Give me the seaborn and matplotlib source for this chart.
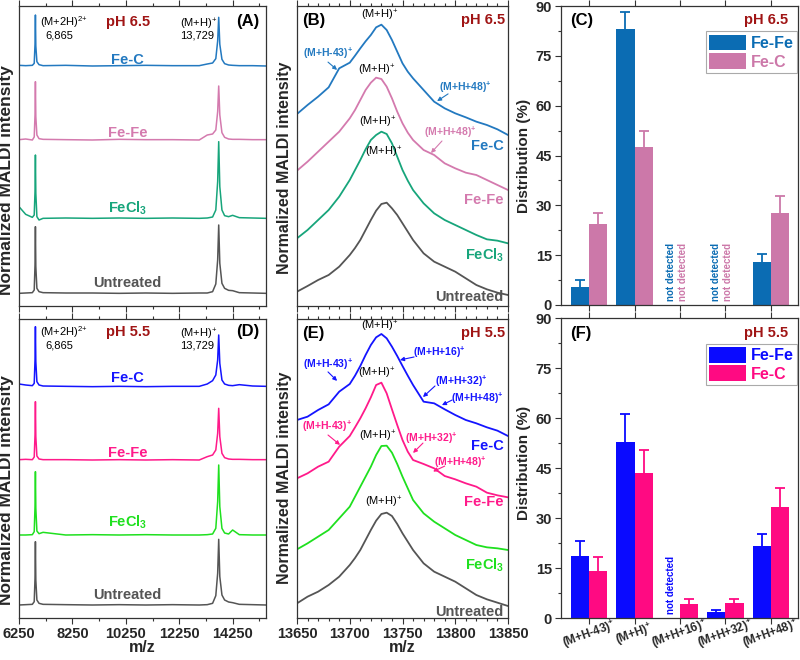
import matplotlib
matplotlib.use("Agg")
import matplotlib.pyplot as plt
from matplotlib.patches import Patch
from matplotlib.ticker import MultipleLocator
import pandas as pd
import seaborn as sns

# full-range spectra, intensity above each trace's own baseline
mz_full = [6250, 6500, 6750, 6820, 6850, 6865, 6880, 6920, 7000, 7150, 8000, 9000,
           10000, 11000, 12000, 13000, 13300, 13500, 13620, 13690, 13729, 13770,
           13850, 13950, 14100, 14250, 14500, 15000, 15500]
full_65 = {
    "Fe-C": [0.2, 0.1, 0.2, 0.8, 6.5, 15.3, 6.0, 1.3, 0.4, 0.1, 0.2, 0.0, 0.1, 0.2, 0.1,
             0.1, 0.6, 0.9, 2.2, 7.5, 14.6, 6.5, 2.0, 0.7, 0.3, 0.2, 0.1, 0.1, 0.0],
    "Fe-Fe": [0.1, 0.3, 0.0, 0.9, 7.5, 17.5, 7.0, 1.5, 0.4, 0.2, 0.1, 0.0, 0.2, 0.1, 0.1,
              0.0, 1.5, 1.8, 3.0, 8.5, 16.2, 7.5, 2.2, 0.8, 0.3, 0.2, 0.2, 0.1, 0.1],
    "FeCl3": [3.5, 1.2, 0.3, 1.0, 8.0, 19.0, 7.5, 0.5, -0.5, 0.0, 0.1, 0.0, 0.1, 0.0, 0.1,
              0.0, 0.1, 0.4, 2.5, 11.0, 23.0, 9.5, 2.5, 0.8, 0.5, 0.9, 0.2, 0.1, 0.0],
    "Untreated": [0.0, 0.1, 0.2, 1.0, 8.5, 20.0, 8.0, 1.5, 0.5, 0.2, 0.1, 0.1, 0.0, 0.1, 0.0,
                  0.1, 0.1, 0.5, 2.8, 10.0, 20.5, 9.0, 3.0, 1.5, 0.9, 0.8, 0.2, 0.1, 0.0],
}
full_55 = {
    "Fe-C": [0.8, 0.5, 0.3, 1.0, 8.0, 18.0, 7.5, 1.5, 0.5, 0.2, 0.1, 0.0, 0.1, 0.0, 0.1,
             0.1, 0.8, 1.8, 3.5, 8.0, 15.5, 7.0, 2.0, 0.8, 0.4, 0.3, 0.6, 0.2, 0.1],
    "Fe-Fe": [0.1, 0.2, 0.1, 0.9, 7.5, 17.5, 7.0, 1.2, 0.3, 0.1, 0.1, 0.0, 0.1, 0.0, 0.1,
              0.0, 1.0, 1.5, 3.0, 8.0, 15.5, 7.0, 2.0, 0.7, 0.3, 0.2, 0.2, 0.1, 0.1],
    "FeCl3": [0.0, 0.0, 0.1, 1.0, 8.5, 19.0, 8.0, 1.2, 0.4, 0.8, 0.0, 0.1, 0.0, 0.1, 0.0,
              0.0, 0.1, 0.3, 2.0, 10.0, 21.0, 8.5, 2.0, 0.6, 0.3, 1.5, 0.1, 0.0, 0.0],
    "Untreated": [0.0, 0.1, 0.2, 1.0, 8.0, 19.0, 7.5, 1.5, 0.5, 0.2, 0.1, 0.0, 0.1, 0.0, 0.1,
                  0.0, 0.1, 0.5, 2.8, 9.5, 19.7, 8.5, 3.0, 1.5, 0.9, 0.7, 0.2, 0.1, 0.0],
}

# zoom on the (M+H)+ peak
mz_zoom = [13650, 13660, 13670, 13680, 13690, 13700, 13705, 13710, 13715, 13720, 13725,
           13730, 13735, 13740, 13745, 13750, 13755, 13760, 13770, 13780, 13790, 13800,
           13810, 13820, 13830, 13840, 13850]
zoom_65 = {
    "Fe-C": [7.8, 10.5, 13.0, 15.8, 21.5, 23.2, 25.3, 27.5, 29.6, 31.5, 33.8, 34.6, 33.0,
             30.0, 26.5, 23.0, 20.5, 18.5, 15.0, 11.5, 9.5, 8.0, 6.8, 5.5, 4.5, 3.2, 1.5],
    "Fe-Fe": [6.8, 9.5, 12.5, 15.5, 18.5, 22.5, 25.0, 28.0, 31.0, 33.2, 34.7, 34.3, 32.0,
              28.5, 24.5, 21.0, 18.2, 16.0, 13.0, 11.5, 9.0, 7.5, 6.2, 5.5, 4.0, 2.5, 1.0],
    "FeCl3": [2.5, 5.0, 8.0, 11.0, 15.0, 20.0, 23.0, 26.0, 29.2, 32.0, 33.5, 34.5, 33.8,
              31.0, 27.0, 23.0, 19.8, 17.0, 13.0, 10.0, 8.0, 6.5, 5.0, 3.5, 2.2, 1.8, 1.0],
    "Untreated": [2.5, 4.2, 6.0, 7.5, 10.0, 13.5, 15.6, 18.0, 21.0, 24.0, 26.8, 28.8, 29.2,
                  27.5, 25.5, 23.0, 20.5, 18.0, 14.0, 11.5, 10.0, 8.5, 6.5, 4.5, 3.2, 2.2, 1.5],
}
zoom_55 = {
    "Fe-C": [9.0, 10.0, 12.0, 13.7, 17.5, 19.8, 22.3, 25.2, 28.5, 31.5, 33.8, 34.8, 33.5,
             31.0, 28.2, 25.2, 22.3, 19.5, 14.5, 14.0, 12.2, 10.5, 9.0, 8.0, 6.8, 5.8, 4.2],
    "Fe-Fe": [7.5, 9.0, 11.0, 12.5, 17.0, 20.2, 22.8, 25.5, 28.5, 31.8, 35.5, 36.2, 33.0,
              28.2, 23.5, 19.0, 15.5, 13.0, 11.8, 10.5, 8.2, 7.2, 6.0, 5.0, 3.2, 2.4, 1.8],
    "FeCl3": [2.2, 4.0, 6.0, 8.0, 11.5, 15.0, 18.0, 21.0, 24.0, 27.0, 30.5, 33.2, 33.3,
              31.2, 27.8, 24.0, 20.5, 17.0, 13.0, 10.5, 8.5, 6.5, 5.0, 3.5, 2.8, 2.5, 2.0],
    "Untreated": [2.0, 4.0, 5.5, 7.5, 10.0, 13.5, 15.6, 18.0, 21.0, 24.0, 26.8, 28.8, 29.2,
                  28.2, 25.8, 23.0, 20.5, 18.0, 14.0, 11.5, 10.0, 8.5, 6.5, 4.5, 3.2, 2.2, 1.2],
}

# species distribution (%), None = not detected
ions = ["(M+H-43)$^{\\mathbf{+}}$", "(M+H)$^{\\mathbf{+}}$", "(M+H+16)$^{\\mathbf{+}}$",
        "(M+H+32)$^{\\mathbf{+}}$", "(M+H+48)$^{\\mathbf{+}}$"]
dist_65 = {"Fe-Fe": [5.3, 83.0, None, None, 13.0], "Fe-C": [24.5, 47.6, None, None, 27.7]}
err_65 = {"Fe-Fe": [2.2, 5.3, None, None, 2.5], "Fe-C": [3.2, 4.8, None, None, 5.0]}
dist_55 = {"Fe-Fe": [18.5, 52.8, None, 1.7, 21.5], "Fe-C": [14.2, 43.5, 4.2, 4.5, 33.2]}
err_55 = {"Fe-Fe": [4.7, 8.5, None, 0.8, 3.7], "Fe-C": [4.1, 7.0, 1.5, 1.2, 5.7]}

col_65 = {"Fe-C": "#2379c0", "Fe-Fe": "#d47aae", "FeCl3": "#17a57b", "Untreated": "#555555"}
col_55 = {"Fe-C": "#1414ff", "Fe-Fe": "#ff1a8a", "FeCl3": "#1fe01f", "Untreated": "#555555"}
bar_65 = {"Fe-Fe": "#0b6cb3", "Fe-C": "#cc78a9"}
bar_55 = {"Fe-Fe": "#0a0aff", "Fe-C": "#ff0a82"}
DARKRED = "#a01515"
SPINE = "#333333"

sns.set_style("ticks")
plt.rcParams["font.family"] = ["Liberation Sans", "DejaVu Sans"]
plt.rcParams.update({
    "mathtext.fontset": "custom",
    "mathtext.rm": "Liberation Sans",
    "mathtext.it": "Liberation Sans:italic",
    "mathtext.bf": "Liberation Sans:bold",
    "axes.edgecolor": SPINE,
    "axes.linewidth": 0.9,
})

fig = plt.figure(figsize=(8, 6.6), dpi=100)


def rect(l, t, r, b):
    return [l / 800, 1 - b / 660, (r - l) / 800, (b - t) / 660]


axA = fig.add_axes(rect(19, 6, 266, 306))
axB = fig.add_axes(rect(297, 6, 508, 306))
axC = fig.add_axes(rect(561, 6, 798, 305))
axD = fig.add_axes(rect(19, 319, 266, 618))
axE = fig.add_axes(rect(297, 319, 508, 618))
axF = fig.add_axes(rect(561, 318, 798, 618))


def txt(ax, x, y, s, color="black", size=10, weight="bold", ha="center", va="center", **kw):
    ax.text(x, y, s, transform=ax.transAxes, color=color, fontsize=size,
            fontweight=weight, ha=ha, va=va, **kw)


def spectra(ax, mz, traces, offsets, colors, ylim, major, minor, labels_on, ylab, fs, lw):
    df = pd.DataFrame({"mz": mz, **traces}).melt(id_vars="mz", var_name="sample",
                                                 value_name="intensity")
    df["y"] = df["intensity"] + df["sample"].map(offsets)
    sns.lineplot(data=df, x="mz", y="y", hue="sample", palette=colors, estimator=None,
                 sort=False, legend=False, linewidth=lw, ax=ax)
    ax.set_xlim(mz[0], mz[-1])
    ax.set_ylim(*ylim)
    ax.set_yticks([])
    ax.set_xticks(major)
    ax.set_xticks(minor, minor=True)
    ax.tick_params(axis="x", which="both", direction="out", top=True, bottom=True,
                   labelbottom=labels_on, labelsize=10.5, width=0.8, color=SPINE, pad=2)
    ax.tick_params(axis="x", which="major", length=4.5)
    ax.tick_params(axis="x", which="minor", length=2.5)
    for t in ax.get_xticklabels():
        t.set_fontweight("bold")
    ax.set_ylabel("Normalized MALDI intensity", fontsize=fs, fontweight="bold")
    ax.yaxis.set_label_coords(-0.022, ylab)
    if labels_on:
        ax.set_xlabel("m/z", fontsize=11.5, fontweight="bold")
        ax.xaxis.set_label_coords(0.5, -0.072)
    else:
        ax.set_xlabel("")


def arrow_label(ax, s, color, text_xy, start, end):
    txt(ax, text_xy[0], text_xy[1], s, color=color, size=7.5)
    ax.annotate("", xy=end, xytext=start, xycoords="axes fraction",
                arrowprops=dict(arrowstyle="-|>", color=color, lw=0.8, mutation_scale=6,
                                shrinkA=0, shrinkB=0))


def bars(ax, dist, err, colors, show_labels, nd_names, ylab):
    names = ["Fe-Fe", "Fe-C"]
    df = pd.DataFrame({
        "ion": ions * 2,
        "sample": [n for n in names for _ in ions],
        "pct": [v if v is not None else 0 for n in names for v in dist[n]],
    })
    sns.barplot(data=df, x="ion", y="pct", hue="sample", hue_order=names, palette=colors,
                saturation=1, width=0.8, errorbar=None, legend=False, linewidth=0, ax=ax)
    for cont, name in zip(ax.containers, names):
        for bar, v, e in zip(cont, dist[name], err[name]):
            if v is None:
                bar.set_visible(False)
                if name in nd_names:
                    shift = 0.5 if name == "Fe-Fe" else 0.15
                    ax.text(bar.get_x() + bar.get_width() * shift, 1.2, "not detected",
                            rotation=90, ha="center", va="bottom", color=colors[name],
                            fontsize=7, fontweight="bold")
                continue
            cx = bar.get_x() + bar.get_width() / 2
            ax.errorbar(cx, v, yerr=e, fmt="none", ecolor=colors[name], elinewidth=1.3,
                        capsize=3.5, capthick=1.3)
    ax.set_xlim(-0.62, 4.6)
    ax.set_ylim(0, 90)
    ax.set_yticks(range(0, 91, 15))
    ax.yaxis.set_minor_locator(MultipleLocator(7.5))
    ax.tick_params(axis="y", which="both", direction="out", left=True, right=False,
                   labelsize=10.5, width=0.8, color=SPINE, pad=2)
    ax.tick_params(axis="y", which="major", length=4.5)
    ax.tick_params(axis="y", which="minor", length=2.5)
    ax.tick_params(axis="x", which="major", direction="out", top=True, bottom=True,
                   length=4, width=0.8, color=SPINE, labelbottom=show_labels,
                   labelsize=8.4, pad=7.5)
    for t in ax.get_yticklabels():
        t.set_fontweight("bold")
    if show_labels:
        for t in ax.get_xticklabels():
            t.set_fontweight("bold")
            t.set_rotation(20)
            t.set_rotation_mode("anchor")
            t.set_ha("center")
            t.set_va("center")
    ax.set_xlabel("")
    ax.set_ylabel("Distribution (%)", fontsize=11, fontweight="bold")
    ax.yaxis.set_label_coords(-0.125, ylab)
    handles = [Patch(facecolor=colors[n], edgecolor="none") for n in names]
    leg = ax.legend(handles, names, loc="upper right", bbox_to_anchor=(0.995, 0.915),
                    fontsize=11.5, frameon=True, fancybox=False, edgecolor="#aaaaaa",
                    framealpha=1, handlelength=2.3, handleheight=1.15, handletextpad=0.3,
                    labelspacing=0.15, borderpad=0.2, borderaxespad=0)
    leg.get_frame().set_linewidth(0.8)
    for t, n in zip(leg.get_texts(), names):
        t.set_color(colors[n])
        t.set_fontweight("bold")


full_major = [6250, 8250, 10250, 12250, 14250]
full_minor = [7250, 9250, 11250, 13250, 15250]
zoom_major = list(range(13650, 13851, 50))
zoom_minor = list(range(13650, 13851, 10))
off_A = {"Untreated": 12.0, "FeCl3": 34.5, "Fe-Fe": 58.0, "Fe-C": 80.2}
off_D = {"Untreated": 11.5, "FeCl3": 32.5, "Fe-Fe": 55.0, "Fe-C": 77.0}
off_zoom = {"Untreated": 10.0, "FeCl3": 26.0, "Fe-Fe": 42.0, "Fe-C": 58.0}

# (A) / (D) full range
for ax, data, off, cols, ylim, lab, ph, ys, ylab in [
        (axA, full_65, off_A, col_65, (8.2, 98.2), "(A)", "pH 6.5",
         (0.82, 0.577, 0.327, 0.077), 0.42),
        (axD, full_55, off_D, col_55, (7.6, 97.3), "(D)", "pH 5.5",
         (0.803, 0.552, 0.321, 0.077), 0.428)]:
    spectra(ax, mz_full, data, off, cols, ylim, full_major, full_minor, ax is axD, ylab,
            12.5, 1.1)
    top = 0.947 if ax is axA else 0.957
    txt(ax, 0.085, top, "(M+2H)$^{2{+}}$", size=8, weight="normal", ha="left")
    txt(ax, 0.105, top - 0.044, "6,865", size=8, weight="normal", ha="left")
    txt(ax, 0.652, top - 0.007, "(M+H)$^{+}$", size=8, weight="normal", ha="left")
    txt(ax, 0.652, top - 0.047, "13,729", size=8, weight="normal", ha="left")
    txt(ax, 0.44, top, ph, color=DARKRED, size=10.5)
    txt(ax, 0.975, top, lab, size=12, ha="right")
    for name, y in zip(["Fe-C", "Fe-Fe", "FeCl3", "Untreated"], ys):
        s = "FeCl$_{\\mathbf{3}}$" if name == "FeCl3" else name
        txt(ax, 0.44, y, s, color=cols[name], size=10.5)

# (B) / (E) zoom
for ax, data, cols, ylim, lab, ph, mh, ys, ylab in [
        (axB, zoom_65, col_65, (8.2, 98.2), "(B)", "pH 6.5",
         [(0.39, 0.968), (0.378, 0.787), (0.384, 0.613), (0.41, 0.513)],
         (0.535, 0.353, 0.17, 0.03), 0.46),
        (axE, zoom_55, col_55, (7.6, 97.3), "(E)", "pH 5.5",
         [(0.39, 0.975), (0.378, 0.819), (0.384, 0.609), (0.41, 0.388)],
         (0.575, 0.388, 0.177, 0.02), 0.468)]:
    spectra(ax, mz_zoom, data, off_zoom, cols, ylim, zoom_major, zoom_minor, ax is axE,
            ylab, 11.5, 1.3)
    txt(ax, 0.024, 0.953, lab, size=12, ha="left")
    txt(ax, 0.986, 0.953, ph, color=DARKRED, size=10.5, ha="right")
    for x, y in mh:
        txt(ax, x, y, "(M+H)$^{+}$", size=8, weight="normal")
    for name, y in zip(["Fe-C", "Fe-Fe", "FeCl3", "Untreated"], ys):
        s = "FeCl$_{\\mathbf{3}}$" if name == "FeCl3" else name
        txt(ax, 0.98, y, s, color=cols[name], size=10.5, ha="right")

b65, p65 = col_65["Fe-C"], col_65["Fe-Fe"]
arrow_label(axB, ions[0], b65, (0.147, 0.843), (0.147, 0.813), (0.19, 0.787))
arrow_label(axB, ions[4], b65, (0.80, 0.73), (0.716, 0.707), (0.664, 0.683))
arrow_label(axB, ions[4], p65, (0.725, 0.578), (0.687, 0.55), (0.635, 0.51))

b55, p55 = col_55["Fe-C"], col_55["Fe-Fe"]
arrow_label(axE, ions[0], b55, (0.147, 0.85), (0.147, 0.823), (0.19, 0.793))
arrow_label(axE, ions[2], b55, (0.673, 0.89), (0.555, 0.873), (0.488, 0.863))
arrow_label(axE, ions[3], b55, (0.777, 0.79), (0.654, 0.776), (0.597, 0.739))
arrow_label(axE, ions[4], b55, (0.853, 0.736), (0.735, 0.729), (0.687, 0.712))
arrow_label(axE, ions[0], p55, (0.142, 0.64), (0.147, 0.612), (0.204, 0.579))
arrow_label(axE, ions[3], p55, (0.635, 0.602), (0.597, 0.585), (0.55, 0.552))
arrow_label(axE, ions[4], p55, (0.775, 0.52), (0.70, 0.508), (0.645, 0.49))

# (C) / (F) distributions
bars(axC, dist_65, err_65, bar_65, False, ["Fe-Fe", "Fe-C"], 0.5)
txt(axC, 0.038, 0.953, "(C)", size=12, ha="left")
txt(axC, 0.96, 0.953, "pH 6.5", color=DARKRED, size=10.5, ha="right")
bars(axF, dist_55, err_55, bar_55, True, ["Fe-Fe"], 0.517)
txt(axF, 0.038, 0.95, "(F)", size=12, ha="left")
txt(axF, 0.96, 0.95, "pH 5.5", color=DARKRED, size=10.5, ha="right")

fig.savefig("out.png", dpi=100)
